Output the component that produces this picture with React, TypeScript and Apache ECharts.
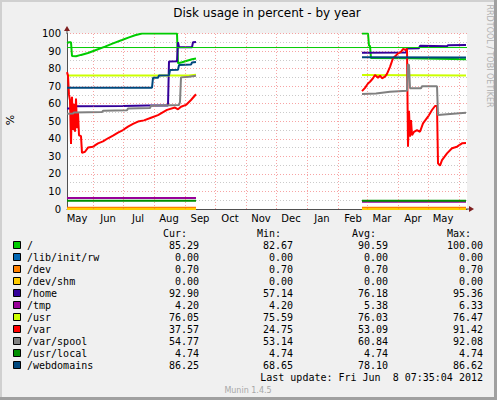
import React, { useEffect, useRef } from 'react';
import * as echarts from 'echarts';

type Pt = [string, number | null];

const seriesNames = ['/', '/lib/init/rw', '/dev', '/dev/shm', '/home', '/tmp', '/usr', '/var', '/var/spool', '/usr/local', '/webdomains'];
const seriesColors = ['#00CC00', '#0066B3', '#FF8000', '#FFCC00', '#330099', '#990099', '#CCFF00', '#FF0000', '#808080', '#008F00', '#00487D'];
const curValues = ['85.29', '0.00', '0.70', '0.00', '92.90', '4.20', '76.05', '37.57', '54.77', '4.74', '86.25'];
const minValues = ['82.67', '0.00', '0.70', '0.00', '57.14', '4.20', '75.59', '24.75', '53.14', '4.74', '68.65'];
const avgValues = ['90.59', '0.00', '0.70', '0.00', '76.18', '5.38', '76.03', '53.09', '60.84', '4.74', '78.10'];
const maxValues = ['100.00', '0.00', '0.70', '0.00', '95.36', '6.33', '76.47', '91.42', '92.08', '4.74', '86.62'];

const monthNames = ['Jan', 'Feb', 'Mar', 'Apr', 'May', 'Jun', 'Jul', 'Aug', 'Sep', 'Oct', 'Nov', 'Dec'];
const monthStarts = ['2011-06-01', '2011-07-01', '2011-08-01', '2011-09-01', '2011-10-01', '2011-11-01', '2011-12-01', '2012-01-01', '2012-02-01', '2012-03-01', '2012-04-01', '2012-05-01', '2012-06-01'];
const monthLabelDates = ['2011-05-16', '2011-06-16', '2011-07-16', '2011-08-16', '2011-09-16', '2011-10-16', '2011-11-16', '2011-12-16', '2012-01-16', '2012-02-16', '2012-03-16', '2012-04-16', '2012-05-16'];
const xMin = '2011-05-06';
const xMax = '2012-06-09';
const warningLevel = 92;

const GAP: Pt = ['2011-11-15', null];

const rootData: Pt[] = [
  ['2011-05-06', 94.6], ['2011-05-08', 95.0], ['2011-05-10', 95.0], ['2011-05-11', 87.2], ['2011-05-15', 87.0],
  ['2011-05-20', 87.8], ['2011-05-27', 88.9], ['2011-06-04', 90.6], ['2011-06-13', 92.5], ['2011-06-21', 94.4],
  ['2011-06-30', 96.3], ['2011-07-07', 97.8], ['2011-07-13', 99.0], ['2011-07-20', 100], ['2011-08-24', 100],
  ['2011-08-25', 83.0], ['2011-08-29', 83.6], ['2011-09-03', 84.5], ['2011-09-08', 85.3], ['2011-09-12', 85.8],
  GAP,
  ['2012-02-25', 100], ['2012-03-02', 100], ['2012-03-03', 93], ['2012-03-04', 93], ['2012-03-05', 86.0],
  ['2012-04-15', 85.9], ['2012-06-08', 85.3],
];
const libInitData: Pt[] = [['2011-05-06', 0], ['2011-09-12', 0], GAP, ['2012-02-25', 0], ['2012-06-08', 0]];
const devData: Pt[] = [['2011-05-06', 0.7], ['2011-09-12', 0.7], GAP, ['2012-02-25', 0.7], ['2012-06-08', 0.7]];
const devShmData: Pt[] = [['2011-05-06', 0], ['2011-09-12', 0], GAP, ['2012-02-25', 0], ['2012-06-08', 0]];
const homeData: Pt[] = [
  ['2011-05-06', 57.3], ['2011-05-10', 57.3], ['2011-05-11', 58.6], ['2011-07-01', 58.7], ['2011-07-25', 59.0],
  ['2011-08-15', 59.0], ['2011-08-16', 84.0], ['2011-08-24', 84.2], ['2011-08-25', 95.0], ['2011-08-26', 92.2],
  ['2011-09-08', 92.2], ['2011-09-09', 95.0], ['2011-09-12', 95.2],
  GAP,
  ['2012-02-25', 89.0], ['2012-04-09', 89.2], ['2012-04-10', 91.5], ['2012-04-22', 91.6], ['2012-04-23', 93.0],
  ['2012-05-20', 92.8], ['2012-05-21', 93.3], ['2012-06-08', 93.4],
];
const tmpData: Pt[] = [['2011-05-06', 6.33], ['2011-09-12', 6.33], GAP, ['2012-02-25', 4.2], ['2012-06-08', 4.2]];
const usrData: Pt[] = [['2011-05-06', 76.0], ['2011-09-05', 76.1], ['2011-09-12', 76.45], GAP, ['2012-02-25', 76.3], ['2012-06-08', 76.05]];
const varData: Pt[] = [
  ['2011-05-06', 78.0], ['2011-05-07', 76.0], ['2011-05-08', 65.0], ['2011-05-09', 62.0], ['2011-05-10', 37.0],
  ['2011-05-11', 64.0], ['2011-05-12', 45.0], ['2011-05-13', 60.0], ['2011-05-14', 44.0], ['2011-05-15', 63.0],
  ['2011-05-16', 46.0], ['2011-05-17', 55.0], ['2011-05-18', 42.0], ['2011-05-20', 41.5], ['2011-05-21', 32.0],
  ['2011-05-24', 32.6], ['2011-05-27', 35.0], ['2011-06-01', 35.5], ['2011-06-06', 37.4], ['2011-06-11', 38.5],
  ['2011-06-16', 40.3], ['2011-06-21', 41.8], ['2011-06-26', 43.5], ['2011-07-01', 45.0], ['2011-07-06', 46.9],
  ['2011-07-11', 48.5], ['2011-07-16', 49.8], ['2011-07-22', 50.5], ['2011-07-29', 52.0], ['2011-08-05', 53.5],
  ['2011-08-14', 56.5], ['2011-08-22', 57.8], ['2011-08-25', 56.8], ['2011-08-28', 58.3], ['2011-09-02', 59.3],
  ['2011-09-07', 62.1], ['2011-09-12', 65.4],
  GAP,
  ['2012-02-25', 67.2], ['2012-02-28', 69.0], ['2012-03-02', 71.5], ['2012-03-04', 72.5], ['2012-03-07', 74.5],
  ['2012-03-09', 76.4], ['2012-03-12', 74.8], ['2012-03-14', 76.0], ['2012-03-16', 74.5], ['2012-03-19', 75.4],
  ['2012-03-21', 77.0], ['2012-03-24', 81.0], ['2012-03-27', 85.9], ['2012-03-30', 87.5], ['2012-04-01', 88.7],
  ['2012-04-04', 89.5], ['2012-04-06', 91.2], ['2012-04-09', 90.6], ['2012-04-10', 91.4], ['2012-04-11', 35.5],
  ['2012-04-12', 56.0], ['2012-04-13', 41.2], ['2012-04-14', 50.7], ['2012-04-15', 42.0], ['2012-04-17', 44.0],
  ['2012-04-20', 45.0], ['2012-04-23', 44.0], ['2012-04-26', 48.8], ['2012-05-01', 52.6], ['2012-05-05', 56.4],
  ['2012-05-08', 58.7], ['2012-05-10', 58.7], ['2012-05-11', 26.0], ['2012-05-13', 24.75], ['2012-05-15', 27.9],
  ['2012-05-20', 31.7], ['2012-05-25', 34.6], ['2012-05-30', 35.5], ['2012-06-04', 37.4], ['2012-06-08', 37.57],
];
const varSpoolData: Pt[] = [
  ['2011-05-06', 54.3], ['2011-05-12', 54.4], ['2011-05-13', 55.0], ['2011-06-10', 55.2], ['2011-06-11', 56.0],
  ['2011-07-05', 56.3], ['2011-07-06', 57.3], ['2011-07-28', 57.5], ['2011-07-29', 58.9], ['2011-08-26', 59.3],
  ['2011-08-27', 61.0], ['2011-08-28', 75.0], ['2011-09-05', 75.4], ['2011-09-12', 75.9],
  GAP,
  ['2012-02-25', 65.5], ['2012-03-10', 65.8], ['2012-03-24', 66.8], ['2012-04-10', 67.4], ['2012-04-11', 82.4],
  ['2012-04-12', 82.0], ['2012-04-13', 68.8], ['2012-04-24', 68.8], ['2012-04-25', 69.9], ['2012-05-10', 69.9],
  ['2012-05-11', 53.6], ['2012-05-20', 54.0], ['2012-06-08', 54.8],
];
const usrLocalData: Pt[] = [['2011-05-06', 4.74], ['2011-09-12', 4.74], GAP, ['2012-02-25', 4.74], ['2012-06-08', 4.74]];
const webdomainsData: Pt[] = [
  ['2011-05-06', 69.1], ['2011-07-30', 69.1], ['2011-07-31', 74.8], ['2011-08-05', 74.8], ['2011-08-06', 76.1],
  ['2011-08-16', 76.2], ['2011-08-17', 79.2], ['2011-08-25', 79.3], ['2011-08-26', 82.0], ['2011-09-07', 82.3],
  ['2011-09-08', 83.5], ['2011-09-12', 83.8],
  GAP,
  ['2012-02-25', 86.4], ['2012-06-08', 86.3],
];

const allData: Pt[][] = [rootData, libInitData, devData, devShmData, homeData, tmpData, usrData, varData, varSpoolData, usrLocalData, webdomainsData];

const MONO = '"DejaVu Sans Mono", monospace';
const SANS = '"DejaVu Sans", sans-serif';
const MAJOR_GRID = 'rgba(240,90,90,0.55)';
const MINOR_GRID = 'rgba(150,150,150,0.5)';
const AXIS_COLOR = '#505050';
const WARN_COLOR = '#00CC00';

const ts = (d: string) => Date.parse(d + 'T00:00:00Z');

function buildLegend(): any[] {
  const els: any[] = [];
  const colRight = [199, 293, 388, 483];
  const headers = ['Cur:', 'Min:', 'Avg:', 'Max:'];
  headers.forEach((h, k) => {
    els.push({ type: 'text', x: colRight[k] - 36, y: 233, style: { text: h, font: `10px ${MONO}`, fill: '#000', align: 'left', verticalAlign: 'middle' } });
  });
  const cols = [curValues, minValues, avgValues, maxValues];
  seriesNames.forEach((name, i) => {
    const y = 245 + i * 12;
    els.push({ type: 'rect', shape: { x: 13.5, y: y - 3.5, width: 7, height: 7 }, style: { fill: seriesColors[i], stroke: '#000', lineWidth: 1 } });
    els.push({ type: 'text', x: 27, y, style: { text: name, font: `10px ${MONO}`, fill: '#000', align: 'left', verticalAlign: 'middle' } });
    cols.forEach((c, k) => {
      els.push({ type: 'text', x: colRight[k], y, style: { text: c[i], font: `10px ${MONO}`, fill: '#000', align: 'right', verticalAlign: 'middle' } });
    });
  });
  els.push({ type: 'text', x: 483, y: 377, style: { text: 'Last update: Fri Jun  8 07:35:04 2012', font: `10px ${MONO}`, fill: '#000', align: 'right', verticalAlign: 'middle' } });
  els.push({ type: 'text', x: 248, y: 390, style: { text: 'Munin 1.4.5', font: `8px ${SANS}`, fill: '#A8A8A8', align: 'center', verticalAlign: 'middle' } });
  return els;
}

export default function App() {
  const ref = useRef<HTMLDivElement>(null);
  useEffect(() => {
    if (!ref.current) return;
    const chart = echarts.init(ref.current, null, { renderer: 'svg' });
    const series: any[] = [];
    series.push({
      name: 'grid',
      type: 'line',
      data: [],
      z: 1,
      markLine: {
        silent: true,
        symbol: 'none',
        label: { show: false },
        lineStyle: { color: MAJOR_GRID, width: 1, type: [1, 2] },
        data: monthStarts.map((d) => ({ xAxis: ts(d) })),
      },
    });
    seriesNames.forEach((name, i) => {
      series.push({
        name,
        type: 'line',
        data: allData[i].map(([d, v]) => [ts(d), v]),
        showSymbol: false,
        symbol: 'none',
        connectNulls: false,
        lineStyle: { color: seriesColors[i], width: 2 },
        itemStyle: { color: seriesColors[i] },
        z: 3,
      });
    });
    series.push({
      name: 'warning',
      type: 'line',
      data: [[ts(xMin), warningLevel], [ts(xMax), warningLevel]],
      showSymbol: false,
      symbol: 'none',
      lineStyle: { color: WARN_COLOR, width: 1, type: 'solid' },
      itemStyle: { color: WARN_COLOR },
      z: 4,
    });
    const option: any = {
      animation: false,
      backgroundColor: '#F0F0F0',
      grid: {
        left: 67, right: 30, top: 33.5, bottom: 191,
        show: true, backgroundColor: '#FFFFFF', borderWidth: 0,
        outerBoundsMode: 'none',
      },
      xAxis: {
        type: 'value',
        min: ts(xMin),
        max: ts(xMax),
        axisLine: { show: true, lineStyle: { color: AXIS_COLOR, width: 1 } },
        axisTick: { show: false, customValues: monthStarts.map(ts) },
        axisLabel: {
          customValues: monthLabelDates.map(ts),
          formatter: (v: number) => monthNames[new Date(v).getUTCMonth()],
          fontFamily: 'DejaVu Sans',
          fontSize: 10,
          color: '#000',
          margin: 4,
        },
        splitLine: { show: false },
      },
      yAxis: {
        type: 'value',
        min: 0,
        max: 100,
        interval: 10,
        axisLine: { show: true, lineStyle: { color: AXIS_COLOR, width: 1 } },
        axisTick: { show: false },
        axisLabel: { fontFamily: 'DejaVu Sans', fontSize: 10, color: '#000', margin: 6 },
        splitLine: { show: true, lineStyle: { color: MAJOR_GRID, type: [1, 2], width: 1 } },
        minorTick: { show: false, splitNumber: 2 },
        minorSplitLine: { show: true, lineStyle: { color: MINOR_GRID, type: [1, 2], width: 1 } },
      },
      graphic: [
        { type: 'text', x: 267, y: 13, style: { text: 'Disk usage in percent - by year', font: `12px ${SANS}`, fill: '#000', align: 'center', verticalAlign: 'middle' } },
        { type: 'text', x: 489, y: 56, rotation: -Math.PI / 2, style: { text: 'RRDTOOL / TOBI OETIKER', font: `8px ${SANS}`, fill: '#B0B0B0', align: 'center', verticalAlign: 'middle' } },
        { type: 'text', x: 10, y: 120, rotation: Math.PI / 2, style: { text: '%', font: `11px ${SANS}`, fill: '#000', align: 'center', verticalAlign: 'middle' } },
        { type: 'line', shape: { x1: 67, y1: 34, x2: 67, y2: 30 }, style: { stroke: AXIS_COLOR, lineWidth: 1 }, z: 10 },
        { type: 'polygon', shape: { points: [[64, 31], [70, 31], [67, 26]] }, style: { fill: '#7F1F1F' }, z: 10 },
        { type: 'line', shape: { x1: 466, y1: 209, x2: 470, y2: 209 }, style: { stroke: AXIS_COLOR, lineWidth: 1 }, z: 10 },
        { type: 'polygon', shape: { points: [[469, 206], [469, 212], [474, 209]] }, style: { fill: '#7F1F1F' }, z: 10 },
        { type: 'rect', shape: { x: 0, y: 0, width: 497, height: 2 }, style: { fill: '#D0D0D0' }, z: 20 },
        { type: 'rect', shape: { x: 0, y: 0, width: 2, height: 400 }, style: { fill: '#D0D0D0' }, z: 20 },
        { type: 'rect', shape: { x: 0, y: 397, width: 497, height: 3 }, style: { fill: '#A0A0A0' }, z: 20 },
        { type: 'rect', shape: { x: 494, y: 0, width: 3, height: 400 }, style: { fill: '#A0A0A0' }, z: 20 },
        ...buildLegend(),
      ],
      series,
    };
    chart.setOption(option);
    return () => chart.dispose();
  }, []);
  return <div ref={ref} style={{ position: 'fixed', left: 0, top: 0, width: 497, height: 400 }} />;
}
